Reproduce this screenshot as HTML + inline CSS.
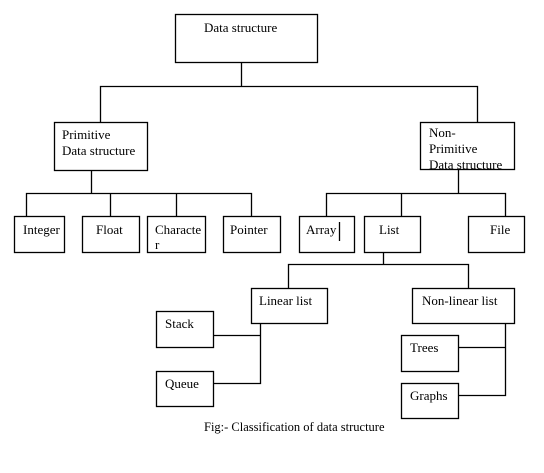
<!DOCTYPE html>
<html><head><style>body{margin:0;background:#fff}svg{display:block}text{font-family:"Liberation Serif",serif;font-size:13px;fill:#000}</style></head><body>
<svg width="544" height="473" viewBox="0 0 544 473" xmlns="http://www.w3.org/2000/svg">
<g fill="none" stroke="#000" stroke-width="1.3">
<rect x="175.5" y="14.5" width="142" height="48"/>
<rect x="54.5" y="122.5" width="93" height="48"/>
<rect x="420.5" y="122.5" width="94" height="47"/>
<rect x="14.5" y="216.5" width="50" height="36"/>
<rect x="82.5" y="216.5" width="57" height="36"/>
<rect x="147.5" y="216.5" width="58" height="36"/>
<rect x="223.5" y="216.5" width="57" height="36"/>
<rect x="299.5" y="216.5" width="55" height="36"/>
<rect x="364.5" y="216.5" width="56" height="36"/>
<rect x="468.5" y="216.5" width="56" height="36"/>
<rect x="251.5" y="288.5" width="76" height="35"/>
<rect x="412.5" y="288.5" width="102" height="35"/>
<rect x="156.5" y="311.5" width="57" height="36"/>
<rect x="156.5" y="371.5" width="57" height="35"/>
<rect x="401.5" y="335.5" width="57" height="36"/>
<rect x="401.5" y="383.5" width="57" height="35"/>
<path d="M241.5 62V86.5M100.5 122V86.5H477.5V122"/>
<path d="M91.5 170V193.5M26.5 216V193.5H251.5V216M110.5 193V216M176.5 193V216"/>
<path d="M458.5 169V193.5M326.5 216V193.5H505.5V216M401.5 193V216"/>
<path d="M383.5 252V264.5M288.5 288V264.5H468.5V288"/>
<path d="M260.5 323V383.5H213M213 335.5H260.5"/>
<path d="M505.5 323V395.5H458M458 347.5H505.5"/>
<path d="M339.5 222V241"/>
</g>
<text x="204" y="32">Data structure</text>
<text x="62" y="139">Primitive</text>
<text x="62" y="155">Data structure</text>
<text x="429" y="137">Non-</text>
<text x="429" y="153">Primitive</text>
<svg x="421" y="122" width="93" height="47" overflow="hidden"><text x="8" y="47">Data structure</text></svg>
<text x="23" y="234">Integer</text>
<text x="96" y="234">Float</text>
<text x="155" y="234">Characte</text>
<text x="155" y="249">r</text>
<text x="230" y="234">Pointer</text>
<text x="306" y="234">Array</text>
<text x="379" y="234">List</text>
<text x="490" y="234">File</text>
<text x="259" y="305">Linear list</text>
<text x="422" y="305">Non-linear list</text>
<text x="165" y="328">Stack</text>
<text x="165" y="388">Queue</text>
<text x="410" y="352">Trees</text>
<text x="410" y="400">Graphs</text>
<text x="204" y="431" style="font-size:12.5px">Fig:- Classification of data structure</text>
</svg>
</body></html>
